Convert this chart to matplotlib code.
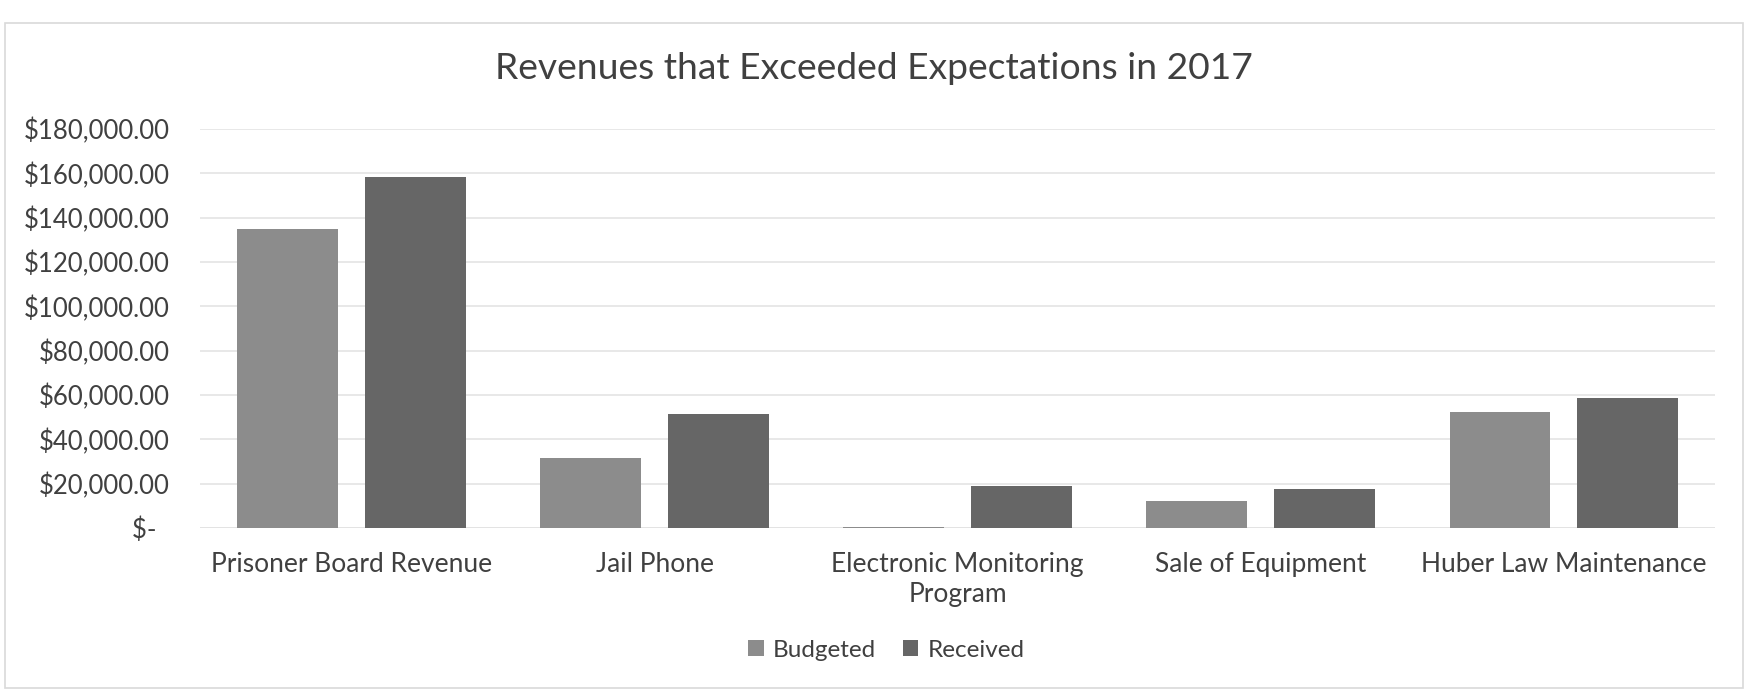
import numpy as np
import matplotlib.pyplot as plt
from matplotlib.patches import Rectangle
from matplotlib.ticker import FuncFormatter

plt.rcParams['font.family'] = ['Lato', 'DejaVu Sans']

# revenue lines and dollar amounts
categories = ['Prisoner Board Revenue', 'Jail Phone', 'Electronic Monitoring\nProgram',
              'Sale of Equipment', 'Huber Law Maintenance']
budgeted = [135000, 31500, 500, 12000, 52500]
received = [158500, 51500, 19000, 17500, 58500]

text_col = '#404040'
budget_col = '#8c8c8c'
received_col = '#666666'

fig = plt.figure(figsize=(17.48, 6.99), dpi=100)
ax = fig.add_axes([0.1144, 0.2446, 0.8668, 0.571])

x = np.arange(len(categories))
w = 0.333
ax.bar(x - 0.21, budgeted, w, color=budget_col, label='Budgeted', zorder=3)
ax.bar(x + 0.21, received, w, color=received_col, label='Received', zorder=3)

ax.set_xlim(-0.5, len(categories) - 0.5)
ax.set_ylim(0, 180000)
ax.set_yticks(np.arange(0, 180001, 20000))


# accounting style: zero shows as a dash
def money(v, pos):
    if v == 0:
        return '$-  '
    return '${:,.2f}'.format(v)


ax.yaxis.set_major_formatter(FuncFormatter(money))
ax.grid(axis='y', color='#e4e4e4', lw=1.2, zorder=0)
for s in ax.spines.values():
    s.set_visible(False)
ax.axhline(0, color='#dcdcdc', lw=1.2, zorder=1)
ax.tick_params(axis='both', length=0, labelcolor=text_col)
ax.tick_params(axis='y', pad=22, labelsize=18.5)
ax.tick_params(axis='x', pad=17)
ax.set_xticks(x)
ax.set_xticklabels(categories, fontsize=19, linespacing=1.25)

fig.text(0.50, 0.902, 'Revenues that Exceeded Expectations in 2017',
         ha='center', va='center', fontsize=26.8, color=text_col)

fig.legend(loc='center', bbox_to_anchor=(0.507, 0.07), ncol=2, frameon=False,
           fontsize=17.5, handlelength=0.65, handleheight=0.65, handletextpad=0.37,
           columnspacing=1.1, labelcolor=text_col)

# chart frame
fig.patches.append(Rectangle((0.003, 0.016), 0.994, 0.951, transform=fig.transFigure,
                             fill=False, edgecolor='#d9d9d9', lw=1.2))

fig.savefig('out.png', dpi=100)
